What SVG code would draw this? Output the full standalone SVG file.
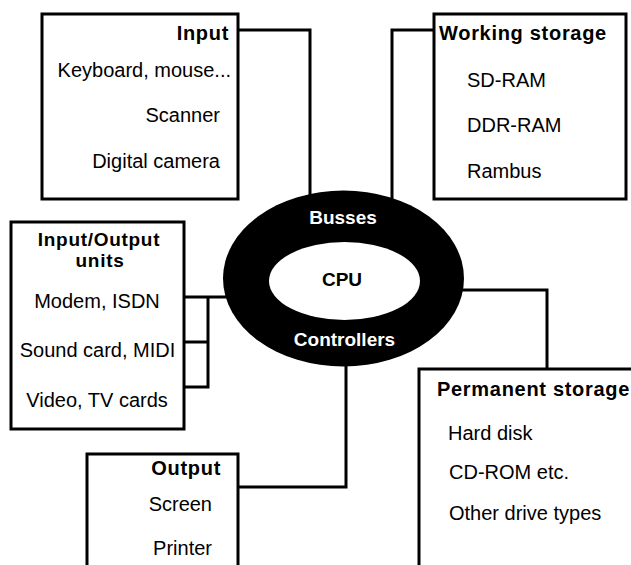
<svg xmlns="http://www.w3.org/2000/svg" width="631" height="565" viewBox="0 0 631 565">
<style>
.box{fill:#fff;stroke:#000;stroke-width:3}
.ln{fill:none;stroke:#000;stroke-width:3}
text{font-family:"Liberation Sans",Arial,sans-serif;font-size:20px;fill:#000}
.t{font-weight:bold;letter-spacing:0.7px}
.s{font-size:19px}
.e{font-weight:bold;font-size:19px;text-anchor:middle}
.w{fill:#fff}
.r{text-anchor:end}
.m{text-anchor:middle}
</style>
<rect width="631" height="565" fill="#fff"/>
<g id="connectors">
<polyline class="ln" points="238,30 310,30 310,205"/>
<polyline class="ln" points="434,30 392,30 392,210"/>
<polyline class="ln" points="455,290 547,290 547,370"/>
<polyline class="ln" points="238,487 346,487 346,355"/>
<line class="ln" x1="184" y1="297" x2="235" y2="297"/>
<polyline class="ln" points="184,342 208,342"/>
<polyline class="ln" points="184,387 208,387 208,297"/>
</g>
<g id="cpu">
<ellipse cx="343.5" cy="278.5" rx="120.5" ry="88" fill="#000"/>
<ellipse cx="344.5" cy="281" rx="75.5" ry="39" fill="#fff"/>
<text class="e w" x="343" y="224">Busses</text>
<text class="e" x="342" y="286">CPU</text>
<text class="e w" x="344.5" y="346">Controllers</text>
</g>
<g id="input">
<rect class="box" x="42" y="14" width="196" height="185"/>
<text class="t r" x="229" y="40">Input</text>
<text class="r" x="231" y="77">Keyboard, mouse...</text>
<text class="r" x="220" y="122">Scanner</text>
<text class="r" x="220" y="168">Digital camera</text>
</g>
<g id="working">
<rect class="box" x="434" y="14" width="192" height="185"/>
<text class="t" x="439" y="40">Working storage</text>
<text x="467" y="87">SD-RAM</text>
<text x="467" y="132">DDR-RAM</text>
<text x="467" y="178">Rambus</text>
</g>
<g id="io">
<rect class="box" x="11" y="222" width="173" height="207"/>
<text class="t m s" x="99" y="246">Input/Output</text>
<text class="t m s" x="100" y="267">units</text>
<text class="m" x="97" y="308">Modem, ISDN</text>
<text class="m" x="97.5" y="357">Sound card, MIDI</text>
<text class="m" x="97" y="407">Video, TV cards</text>
</g>
<g id="output">
<rect class="box" x="87" y="454" width="151" height="130"/>
<text class="t r" x="221" y="475">Output</text>
<text class="r" x="212" y="511">Screen</text>
<text class="r" x="212" y="555">Printer</text>
</g>
<g id="permanent">
<rect class="box" x="419" y="369" width="230" height="220"/>
<text class="t" x="437" y="396">Permanent storage</text>
<text x="448" y="440">Hard disk</text>
<text x="449" y="479">CD-ROM etc.</text>
<text x="449" y="520">Other drive types</text>
</g>
</svg>
